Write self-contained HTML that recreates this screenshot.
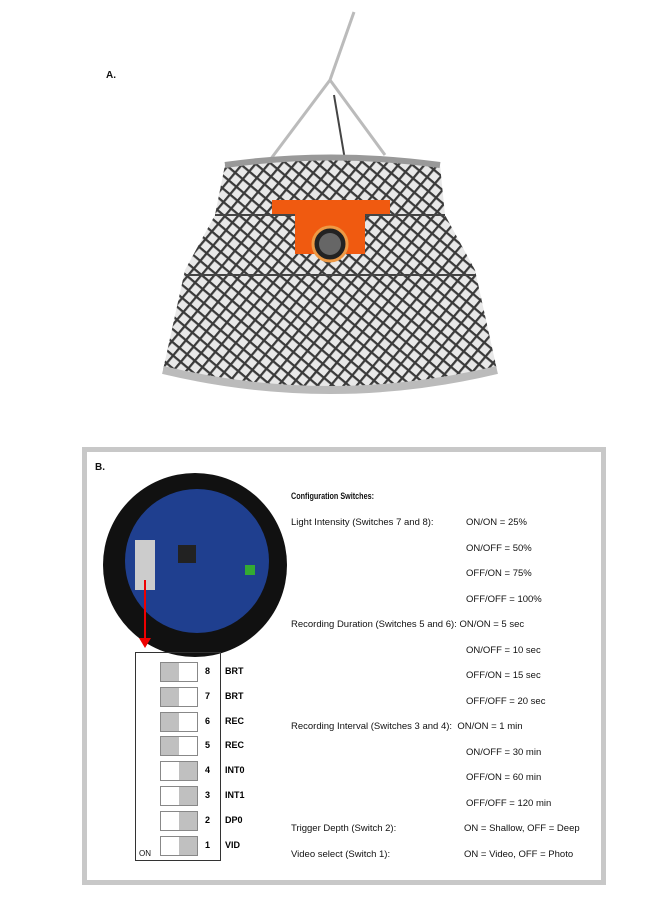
<!DOCTYPE html>
<html><head><meta charset="utf-8"><style>
body{margin:0;background:#fff;width:656px;height:907px;overflow:hidden;font-family:"Liberation Sans",sans-serif;position:relative}
.t{position:absolute;font-size:9.5px;color:#111;white-space:nowrap}
.sw{position:absolute;left:160px;width:36px;height:18px;border:1px solid #888;background:#fff}
.sw i{position:absolute;top:0;width:18px;height:18px;background:#c0c0c0}
.n{position:absolute;left:205px;font-size:9px;font-weight:bold}
.l{position:absolute;left:225px;font-size:9px;font-weight:bold}
</style></head><body>
<div class="t" style="left:106px;top:70px;font-weight:bold;font-size:10px">A.</div>
<svg style="position:absolute;left:0;top:0" width="656" height="420">
<defs><pattern id="m" width="10" height="10" patternUnits="userSpaceOnUse" patternTransform="rotate(40)">
<rect width="10" height="10" fill="#e8e8e8"/><path d="M0 0H10M0 0V10" stroke="#3a3a3a" stroke-width="4.5"/></pattern></defs>
<path d="M354 12 L330 80 L270 160 M330 80 L385 155" stroke="#bbb" stroke-width="3" fill="none"/>
<line x1="334" y1="95" x2="345" y2="160" stroke="#444" stroke-width="2"/>
<path d="M225 165 Q330 150 440 165 L445 215 L475 270 L497 370 Q330 410 163 370 L185 270 L215 215 Z" fill="url(#m)"/>
<path d="M185 275 L475 275 M215 215 L445 215" stroke="#444" stroke-width="2" fill="none"/>
<path d="M225 165 Q330 150 440 165" stroke="#999" stroke-width="6" fill="none"/>
<path d="M163 370 Q330 410 497 370" stroke="#bbb" stroke-width="8" fill="none"/>
<rect x="272" y="200" width="118" height="14" fill="#f05a10"/>
<rect x="295" y="214" width="70" height="40" fill="#f05a10"/>
<circle cx="330" cy="244" r="17" fill="#222" stroke="#e94" stroke-width="3"/>
<circle cx="330" cy="244" r="11" fill="#666"/>
</svg>
<div style="position:absolute;left:82px;top:447px;width:514px;height:428px;border:5px solid #c8c8c8"></div>
<div class="t" style="left:95px;top:462px;font-weight:bold;font-size:10px">B.</div>
<svg style="position:absolute;left:0;top:0" width="300" height="660">
<circle cx="195" cy="565" r="92" fill="#111"/>
<circle cx="197" cy="561" r="72" fill="#1f3f8f"/>
<rect x="135" y="540" width="20" height="50" fill="#ccc"/>
<rect x="178" y="545" width="18" height="18" fill="#222"/>
<rect x="245" y="565" width="10" height="10" fill="#3a3"/>
<line x1="145" y1="580" x2="145" y2="640" stroke="#e00" stroke-width="2"/>
<path d="M139 638 L151 638 L145 648 Z" fill="#e00"/>
</svg>
<div style="position:absolute;left:135px;top:652px;width:84px;height:207px;border:1px solid #333"></div>
<div class="t" style="left:139px;top:849px;font-size:8px">ON</div>
<div id="sws"></div>
<script>
const nums=[8,7,6,5,4,3,2,1];
const labels=['BRT','BRT','REC','REC','INT0','INT1','DP0','VID'];
const onLeft=[1,1,1,1,0,0,0,0];
const c=document.getElementById('sws');
nums.forEach((n,i)=>{const y=662+i*24.8;
const s=document.createElement('div');s.className='sw';s.style.top=y+'px';


const k=document.createElement('i');k.style.left=(onLeft[i]?0:18)+'px';s.appendChild(k);c.appendChild(s);
const a=document.createElement('div');a.className='n';a.style.top=(y+4)+'px';a.textContent=n;

c.appendChild(a);
const b=document.createElement('div');b.className='l';b.style.top=(y+4)+'px';b.textContent=labels[i];

c.appendChild(b);});
</script>
<div class="t" style="left:291px;top:491px;font-weight:bold;transform:scaleX(0.76);transform-origin:left">Configuration Switches:</div>
<div class="t" style="left:291px;top:517px">Light Intensity (Switches 7 and 8):</div>
<div class="t" style="left:466px;top:517px">ON/ON = 25%</div>
<div class="t" style="left:466px;top:543px">ON/OFF = 50%</div>
<div class="t" style="left:466px;top:568px">OFF/ON = 75%</div>
<div class="t" style="left:466px;top:594px">OFF/OFF = 100%</div>
<div class="t" style="left:291px;top:619px">Recording Duration (Switches 5 and 6): ON/ON = 5 sec</div>
<div class="t" style="left:466px;top:645px">ON/OFF = 10 sec</div>
<div class="t" style="left:466px;top:670px">OFF/ON = 15 sec</div>
<div class="t" style="left:466px;top:696px">OFF/OFF = 20 sec</div>
<div class="t" style="left:291px;top:721px">Recording Interval (Switches 3 and 4): &nbsp;ON/ON = 1 min</div>
<div class="t" style="left:466px;top:747px">ON/OFF = 30 min</div>
<div class="t" style="left:466px;top:772px">OFF/ON = 60 min</div>
<div class="t" style="left:466px;top:798px">OFF/OFF = 120 min</div>
<div class="t" style="left:291px;top:823px">Trigger Depth (Switch 2):</div>
<div class="t" style="left:464px;top:823px">ON = Shallow, OFF = Deep</div>
<div class="t" style="left:291px;top:849px">Video select (Switch 1):</div>
<div class="t" style="left:464px;top:849px">ON = Video, OFF = Photo</div>
</body></html>
